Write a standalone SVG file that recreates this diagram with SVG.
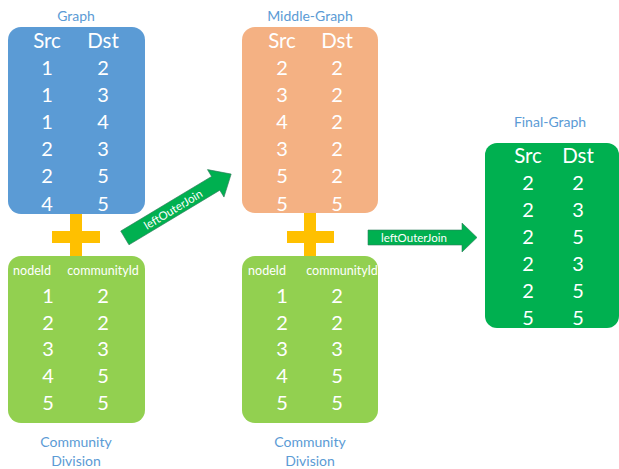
<svg xmlns="http://www.w3.org/2000/svg" width="619" height="469" viewBox="0 0 619 469">
<style>
text{font-family:Lato,"Open Sans","Liberation Sans",sans-serif;text-anchor:middle;dominant-baseline:central}
.title{fill:#5B9BD5;font-size:14px}
.hd{fill:#fff;font-size:20.5px}
.v{fill:#fff;font-size:20px}
.sm{fill:#fff;font-size:12.5px}
.lbl{fill:#fff;font-size:11.5px}
.plus{fill:#FFC000}
.arr{fill:#00B050;stroke:#2E7D5B;stroke-width:0.6}
</style>
<rect width="619" height="469" fill="#fff"/>
<g id="graph">
<text class="title" x="76" y="15">Graph</text>
<rect x="8" y="27" width="137" height="187" rx="13" fill="#5B9BD5"/>
<text class="hd" x="47" y="40">Src</text><text class="hd" x="103" y="40">Dst</text>
<text class="v" x="47" y="67">1</text><text class="v" x="103" y="67">2</text>
<text class="v" x="47" y="94">1</text><text class="v" x="103" y="94">3</text>
<text class="v" x="47" y="121">1</text><text class="v" x="103" y="121">4</text>
<text class="v" x="47" y="148">2</text><text class="v" x="103" y="148">3</text>
<text class="v" x="47" y="175">2</text><text class="v" x="103" y="175">5</text>
<text class="v" x="47" y="203">4</text><text class="v" x="103" y="203">5</text>
</g>
<g id="plus1"><rect class="plus" x="70" y="214" width="12" height="44"/><rect class="plus" x="52" y="231" width="48" height="12"/></g>
<g id="community1">
<rect x="8" y="256" width="137" height="167" rx="13" fill="#92D050"/>
<text class="sm" x="32" y="270">nodeId</text><text class="sm" x="103" y="270">communityId</text>
<text class="v" x="48" y="295">1</text><text class="v" x="103" y="295">2</text>
<text class="v" x="48" y="322">2</text><text class="v" x="103" y="322">2</text>
<text class="v" x="48" y="348">3</text><text class="v" x="103" y="348">3</text>
<text class="v" x="48" y="375">4</text><text class="v" x="103" y="375">5</text>
<text class="v" x="48" y="402">5</text><text class="v" x="103" y="402">5</text>
<text class="title" x="76" y="441">Community</text><text class="title" x="76" y="460">Division</text>
</g>
<g id="middle">
<text class="title" x="310" y="15">Middle-Graph</text>
<rect x="242" y="27" width="136" height="186" rx="13" fill="#F4B183"/>
<text class="hd" x="282" y="40">Src</text><text class="hd" x="337" y="40">Dst</text>
<text class="v" x="282" y="67">2</text><text class="v" x="337" y="67">2</text>
<text class="v" x="282" y="94">3</text><text class="v" x="337" y="94">2</text>
<text class="v" x="282" y="121">4</text><text class="v" x="337" y="121">2</text>
<text class="v" x="282" y="148">3</text><text class="v" x="337" y="148">2</text>
<text class="v" x="282" y="175">5</text><text class="v" x="337" y="175">2</text>
<text class="v" x="282" y="203">5</text><text class="v" x="337" y="203">5</text>
</g>
<g id="plus2"><rect class="plus" x="304" y="213" width="12" height="45"/><rect class="plus" x="287" y="231" width="47" height="12"/></g>
<g id="community2">
<rect x="242" y="256" width="136" height="167" rx="13" fill="#92D050"/>
<text class="sm" x="267" y="270">nodeId</text><text class="sm" x="342" y="270">communityId</text>
<text class="v" x="282" y="295">1</text><text class="v" x="337" y="295">2</text>
<text class="v" x="282" y="322">2</text><text class="v" x="337" y="322">2</text>
<text class="v" x="282" y="348">3</text><text class="v" x="337" y="348">3</text>
<text class="v" x="282" y="375">4</text><text class="v" x="337" y="375">5</text>
<text class="v" x="282" y="402">5</text><text class="v" x="337" y="402">5</text>
<text class="title" x="310" y="441">Community</text><text class="title" x="310" y="460">Division</text>
</g>
<g id="final">
<text class="title" x="550" y="121">Final-Graph</text>
<rect x="485" y="143" width="134" height="185" rx="12" fill="#00B050"/>
<text class="hd" x="528" y="155">Src</text><text class="hd" x="578" y="155">Dst</text>
<text class="v" x="528" y="182">2</text><text class="v" x="578" y="182">2</text>
<text class="v" x="528" y="209">2</text><text class="v" x="578" y="209">3</text>
<text class="v" x="528" y="236">2</text><text class="v" x="578" y="236">5</text>
<text class="v" x="528" y="263">2</text><text class="v" x="578" y="263">3</text>
<text class="v" x="528" y="290">2</text><text class="v" x="578" y="290">5</text>
<text class="v" x="528" y="317">5</text><text class="v" x="578" y="317">5</text>
</g>
<g id="connectors">
<g transform="translate(178,206) rotate(-31)">
<path class="arr" d="M-62,-8 H44 V-16 L62,0 L44,16 V8 H-62 Z"/>
<text class="lbl" x="-6" y="0">leftOuterJoin</text>
</g>
<path class="arr" d="M368,230 H462 V223 L477,237.5 L462,252 V245 H368 Z"/>
<text class="lbl" x="414" y="237.5">leftOuterJoin</text>
</g>
</svg>
